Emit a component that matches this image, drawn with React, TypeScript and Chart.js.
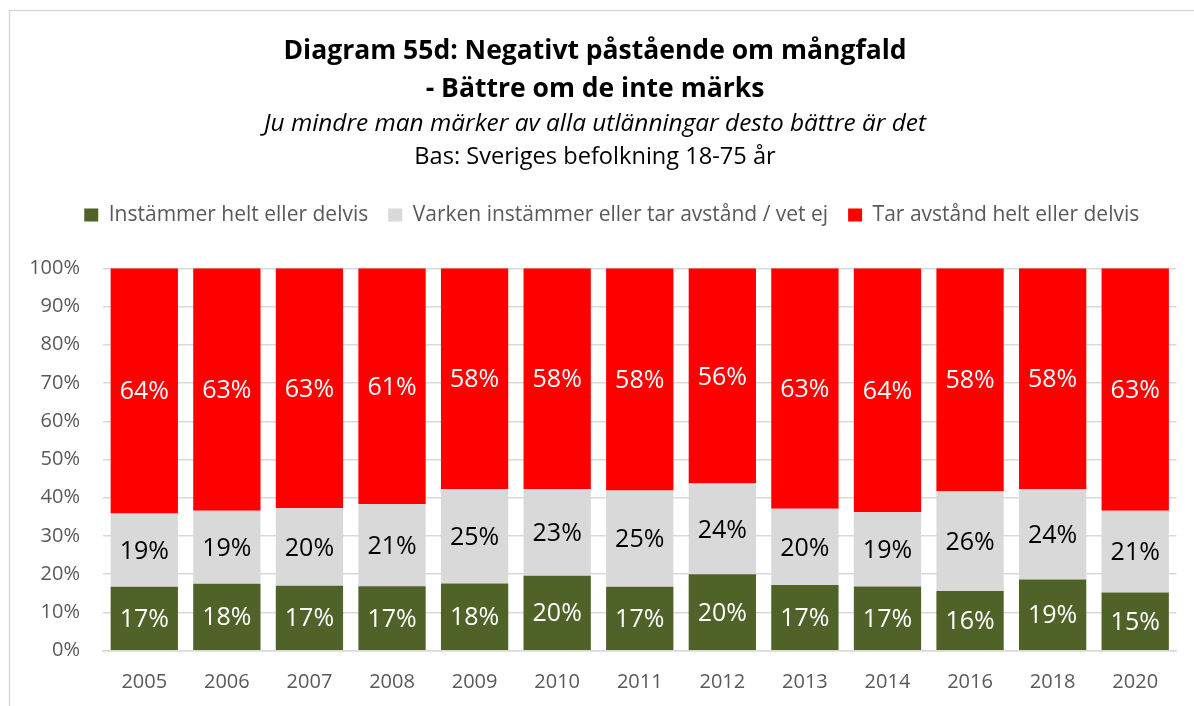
import React, { useEffect, useRef } from "react";
import { Chart, registerables } from "chart.js";

Chart.register(...registerables);

const years = ["2005", "2006", "2007", "2008", "2009", "2010", "2011", "2012", "2013", "2014", "2016", "2018", "2020"];
const agree = [16.7, 17.5, 17.0, 16.8, 17.6, 19.6, 16.7, 20.0, 17.2, 16.8, 15.6, 18.6, 15.2];
const neutral = [19.2, 19.1, 20.3, 21.4, 24.8, 22.7, 25.2, 23.7, 19.9, 19.4, 26.1, 23.6, 21.4];
const disagree = [64.1, 63.4, 62.7, 61.4, 57.8, 57.7, 58.1, 56.3, 62.9, 63.8, 58.3, 57.8, 63.4];

const seriesNames = [
  "Instämmer helt eller delvis",
  "Varken instämmer eller tar avstånd / vet ej",
  "Tar avstånd helt eller delvis",
];
const seriesColors = ["#4F6228", "#D9D9D9", "#FF0000"];
const labelColors = ["#FFFFFF", "#000000", "#FFFFFF"];

const titleLines = [
  "Diagram 55d: Negativt påstående om mångfald",
  "- Bättre om de inte märks",
  "Ju mindre man märker av alla utlänningar desto bättre är det",
  "Bas: Sveriges befolkning 18-75 år",
];

const FONT = "'Open Sans', sans-serif";

const rawSeries = [agree, neutral, disagree];
const totals = years.map((_, i) => agree[i] + neutral[i] + disagree[i]);
const normalized = rawSeries.map((s) => s.map((v, i) => (v / totals[i]) * 100));

const framePlugin = {
  id: "frameAndTitles",
  afterLayout(chart: any) {
    if (chart.legend) {
      chart.legend.left = 47;
    }
  },
  beforeDraw(chart: any) {
    const ctx = chart.ctx;
    ctx.save();
    ctx.fillStyle = "#FFFFFF";
    ctx.fillRect(0, 0, chart.width, chart.height);
    ctx.strokeStyle = "#D9D9D9";
    ctx.lineWidth = 1.5;
    ctx.beginPath();
    ctx.moveTo(9.5, chart.height);
    ctx.lineTo(9.5, 10.5);
    ctx.lineTo(chart.width, 10.5);
    ctx.stroke();

    const cx = 595;
    ctx.textAlign = "center";
    ctx.textBaseline = "alphabetic";
    ctx.fillStyle = "#000000";
    ctx.font = `bold 26.5px ${FONT}`;
    ctx.fillText(titleLines[0], cx, 59);
    ctx.fillText(titleLines[1], cx, 97);
    ctx.font = `italic 24.4px ${FONT}`;
    ctx.fillText(titleLines[2], cx, 131);
    ctx.font = `23.6px ${FONT}`;
    ctx.fillText(titleLines[3], cx, 164);
    ctx.restore();
  },
};

const valueLabelPlugin = {
  id: "valueLabels",
  afterDatasetsDraw(chart: any) {
    const ctx = chart.ctx;
    ctx.save();
    ctx.font = `25px ${FONT}`;
    ctx.textAlign = "center";
    ctx.textBaseline = "middle";
    chart.data.datasets.forEach((ds: any, di: number) => {
      const meta = chart.getDatasetMeta(di);
      meta.data.forEach((el: any, i: number) => {
        const y = (el.y + el.base) / 2;
        ctx.fillStyle = labelColors[di];
        ctx.fillText(`${Math.round(rawSeries[di][i])}%`, el.x, y + 1.5);
      });
    });
    ctx.restore();
  },
};

export default function App() {
  const ref = useRef<HTMLCanvasElement | null>(null);

  useEffect(() => {
    if (!ref.current) return;
    Chart.defaults.font.family = FONT;
    const chart = new Chart(ref.current, {
      type: "bar",
      data: {
        labels: years,
        datasets: seriesNames.map((name, di) => ({
          label: name,
          data: normalized[di],
          backgroundColor: seriesColors[di],
          borderWidth: 0,
          barPercentage: 0.815,
          categoryPercentage: 1,
        })),
      },
      options: {
        responsive: false,
        animation: false,
        layout: { padding: { top: 184.5, left: 0, right: 17.5, bottom: 0 } },
        plugins: {
          title: { display: false },
          subtitle: {
            display: true,
            text: " ",
            weight: 10,
            padding: 0,
            font: { size: 32.8, lineHeight: 1 },
          } as any,
          tooltip: { enabled: false },
          legend: {
            display: true,
            position: "top",
            labels: {
              boxWidth: 14,
              boxHeight: 13,
              padding: 20,
              color: "#595959",
              font: { size: 21, family: FONT },
            },
          },
        },
        scales: {
          x: {
            stacked: true,
            grid: { display: false, drawTicks: false },
            border: { display: true, color: "#D9D9D9", width: 1.5 },
            ticks: { color: "#595959", font: { size: 20, family: FONT }, padding: 20 },
            afterFit: (s: any) => {
              s.height = 55.3;
            },
          },
          y: {
            stacked: true,
            min: 0,
            max: 100,
            grid: { color: "#D9D9D9", lineWidth: 1.5, drawTicks: false },
            border: { display: false },
            ticks: {
              stepSize: 10,
              color: "#595959",
              font: { size: 20, family: FONT },
              padding: 23,
              callback: (v: any) => `${v}%`,
            },
            afterFit: (s: any) => {
              s.width = 103;
            },
          },
        },
      },
      plugins: [framePlugin, valueLabelPlugin],
    });
    return () => chart.destroy();
  }, []);

  return (
    <div style={{ position: "fixed", left: 0, top: 0, width: 1194, height: 706, background: "#fff" }}>
      <canvas ref={ref} width={1194} height={706} style={{ display: "block" }} />
    </div>
  );
}
